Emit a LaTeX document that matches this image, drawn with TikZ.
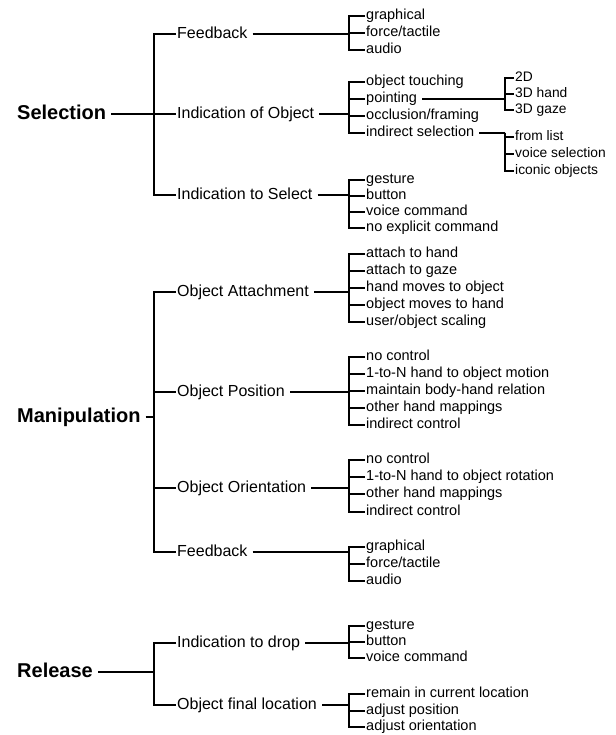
\documentclass[tikz,border=0pt]{standalone}
\usepackage{fontspec}
\setmainfont{Liberation Sans}
\usetikzlibrary{positioning,calc}
\tikzset{
  hd/.style={font=\fontsize{20}{24}\selectfont\bfseries, anchor=west, inner xsep=1pt, inner ysep=0pt, text height=14.4pt, text depth=4pt},
  md/.style={font=\fontsize{16}{19}\selectfont, anchor=west, inner xsep=1pt, inner ysep=0pt, text height=11.5pt, text depth=3.3pt},
  lf/.style={font=\fontsize{14.5}{17}\selectfont, anchor=west, inner xsep=1pt, inner ysep=0pt, text height=10.5pt, text depth=3pt},
  sb/.style={font=\fontsize{13.8}{16}\selectfont, anchor=west, inner xsep=1pt, inner ysep=0pt, text height=10pt, text depth=2.9pt},
  br/.style={line width=1.5pt},
  ln/.style={line width=1.1pt, shorten <=4pt}
}

\begin{document}
\begin{tikzpicture}[x=1pt,y=-1pt]
	\useasboundingbox (0,0) rectangle (615,735);
	\coordinate (xa) at (154,0);
	\coordinate (xb) at (349,0);
	\coordinate (xc) at (505,0);

	% top level
	\node[hd] (sel) at (16,114) {Selection};
	\node[hd] (man) at (16,417) {Manipulation};
	\node[hd] (rel) at (16,672) {Release};

	% Selection
	\node[md] (sFb) at (176,34) {Feedback};
	\node[md] (sIo) at (176,114) {Indication of Object};
	\node[md] (sIs) at (176,195) {Indication to Select};

	\node[lf] (sFb1) at (365,16) {graphical};
	\node[lf] (sFb2) at (365,33) {force/tactile};
	\node[lf] (sFb3) at (365,50) {audio};

	\node[lf] (sIo1) at (365,82) {object touching};
	\node[lf] (sIo2) at (365,99) {pointing};
	\node[lf] (sIo3) at (365,116) {occlusion/framing};
	\node[lf] (sIo4) at (365,133) {indirect selection};

	\node[sb] (pt1) at (514,78) {2D};
	\node[sb] (pt2) at (514,94) {3D hand};
	\node[sb] (pt3) at (514,110) {3D gaze};

	\node[sb] (is1) at (514,137) {from list};
	\node[sb] (is2) at (514,154) {voice selection};
	\node[sb] (is3) at (514,171) {iconic objects};

	\node[lf] (sIs1) at (365,180) {gesture};
	\node[lf] (sIs2) at (365,196) {button};
	\node[lf] (sIs3) at (365,212) {voice command};
	\node[lf] (sIs4) at (365,228) {no explicit command};

	% Manipulation
	\node[md] (mAt) at (176,292) {Object Attachment};
	\node[md] (mPo) at (176,392) {Object Position};
	\node[md] (mOr) at (176,488) {Object Orientation};
	\node[md] (mFb) at (176,552) {Feedback};

	\node[lf] (mAt1) at (365,254) {attach to hand};
	\node[lf] (mAt2) at (365,271) {attach to gaze};
	\node[lf] (mAt3) at (365,288) {hand moves to object};
	\node[lf] (mAt4) at (365,305) {object moves to hand};
	\node[lf] (mAt5) at (365,322) {user/object scaling};

	\node[lf] (mPo1) at (365,357) {no control};
	\node[lf] (mPo2) at (365,374) {1-to-N hand to object motion};
	\node[lf] (mPo3) at (365,391) {maintain body-hand relation};
	\node[lf] (mPo4) at (365,408) {other hand mappings};
	\node[lf] (mPo5) at (365,425) {indirect control};

	\node[lf] (mOr1) at (365,460) {no control};
	\node[lf] (mOr2) at (365,477) {1-to-N hand to object rotation};
	\node[lf] (mOr3) at (365,494) {other hand mappings};
	\node[lf] (mOr4) at (365,512) {indirect control};

	\node[lf] (mFb1) at (365,547) {graphical};
	\node[lf] (mFb2) at (365,564) {force/tactile};
	\node[lf] (mFb3) at (365,581) {audio};

	% Release
	\node[md] (rId) at (176,643) {Indication to drop};
	\node[md] (rLo) at (176,705) {Object final location};

	\node[lf] (rId1) at (365,626) {gesture};
	\node[lf] (rId2) at (365,642) {button};
	\node[lf] (rId3) at (365,658) {voice command};

	\node[lf] (rLo1) at (365,694) {remain in current location};
	\node[lf] (rLo2) at (365,711) {adjust position};
	\node[lf] (rLo3) at (365,727) {adjust orientation};

	% first level brackets
	\draw[ln] (sel.east) -- (sel.east -| xa);
	\draw[br] (sFb.west) -| (sel.east -| xa) |- (sIs.west);
	\draw[br] (sIo.west -| xa) -- (sIo.west);

	\draw[ln] (man.east) -- (man.east -| xa);
	\draw[br] (mAt.west) -| (man.east -| xa) |- (mFb.west);
	\draw[br] (mPo.west -| xa) -- (mPo.west) (mOr.west -| xa) -- (mOr.west);

	\draw[ln] (rel.east) -- (rel.east -| xa);
	\draw[br] (rId.west) -| (rel.east -| xa) |- (rLo.west);

	% second level brackets
	\draw[ln] (sFb.east) -- (sFb.east -| xb);
	\draw[br] (sFb1.west) -| (sFb.east -| xb) |- (sFb3.west);
	\draw[br] (sFb2.west -| xb) -- (sFb2.west);

	\draw[ln] (sIo.east) -- (sIo.east -| xb);
	\draw[br] (sIo1.west) -| (sIo.east -| xb) |- (sIo4.west);
	\draw[br] (sIo2.west -| xb) -- (sIo2.west) (sIo3.west -| xb) -- (sIo3.west);

	\draw[ln] (sIs.east) -- (sIs.east -| xb);
	\draw[br] (sIs1.west) -| (sIs.east -| xb) |- (sIs4.west);
	\draw[br] (sIs2.west -| xb) -- (sIs2.west) (sIs3.west -| xb) -- (sIs3.west);

	\draw[ln] (mAt.east) -- (mAt.east -| xb);
	\draw[br] (mAt1.west) -| (mAt.east -| xb) |- (mAt5.west);
	\draw[br] (mAt2.west -| xb) -- (mAt2.west) (mAt3.west -| xb) -- (mAt3.west) (mAt4.west -| xb) -- (mAt4.west);

	\draw[ln] (mPo.east) -- (mPo.east -| xb);
	\draw[br] (mPo1.west) -| (mPo.east -| xb) |- (mPo5.west);
	\draw[br] (mPo2.west -| xb) -- (mPo2.west) (mPo3.west -| xb) -- (mPo3.west) (mPo4.west -| xb) -- (mPo4.west);

	\draw[ln] (mOr.east) -- (mOr.east -| xb);
	\draw[br] (mOr1.west) -| (mOr.east -| xb) |- (mOr4.west);
	\draw[br] (mOr2.west -| xb) -- (mOr2.west) (mOr3.west -| xb) -- (mOr3.west);

	\draw[ln] (mFb.east) -- (mFb.east -| xb);
	\draw[br] (mFb1.west) -| (mFb.east -| xb) |- (mFb3.west);
	\draw[br] (mFb2.west -| xb) -- (mFb2.west);

	\draw[ln] (rId.east) -- (rId.east -| xb);
	\draw[br] (rId1.west) -| (rId.east -| xb) |- (rId3.west);
	\draw[br] (rId2.west -| xb) -- (rId2.west);

	\draw[ln] (rLo.east) -- (rLo.east -| xb);
	\draw[br] (rLo1.west) -| (rLo.east -| xb) |- (rLo3.west);
	\draw[br] (rLo2.west -| xb) -- (rLo2.west);

	% third level brackets
	\draw[ln] (sIo2.east) -- (sIo2.east -| xc);
	\draw[br] (pt1.west) -| (sIo2.east -| xc) |- (pt3.west);
	\draw[br] (pt2.west -| xc) -- (pt2.west);

	\draw[ln] (sIo4.east) -- (sIo4.east -| xc);
	\draw[br] (is1.west) -| (sIo4.east -| xc) |- (is3.west);
	\draw[br] (is2.west -| xc) -- (is2.west);
\end{tikzpicture}
\end{document}
